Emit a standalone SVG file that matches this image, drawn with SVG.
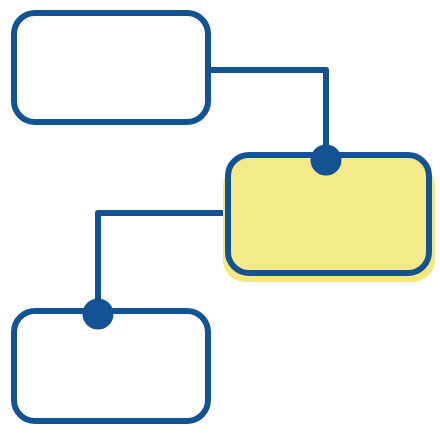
<svg xmlns="http://www.w3.org/2000/svg" width="440" height="440" viewBox="0 0 440 440">
<style>
.box{fill:#ffffff;stroke:#135293;stroke-width:6}
.hl{fill:#f4e98b;stroke:#135293;stroke-width:6}
.conn{fill:none;stroke:#135293;stroke-width:6;stroke-linejoin:round}
.dot{fill:#135293}
</style>
<rect width="440" height="440" fill="#ffffff"/>
<g id="connectors">
<path class="conn" d="M208 70 H326 V160"/>
<path class="conn" d="M228 213 H98 V314"/>
</g>
<g id="node-top">
<rect class="box" x="14" y="13" width="194" height="109" rx="21"/>
</g>
<g id="node-middle">
<rect x="223" y="164" width="212" height="118" rx="22" fill="#f6e680"/>
<rect class="hl" x="228" y="155" width="201" height="118" rx="21"/>
<circle class="dot" cx="326" cy="160" r="15.5"/>
</g>
<g id="node-bottom">
<rect class="box" x="14" y="311" width="194" height="110" rx="21"/>
<circle class="dot" cx="98" cy="314" r="15.5"/>
</g>
</svg>
